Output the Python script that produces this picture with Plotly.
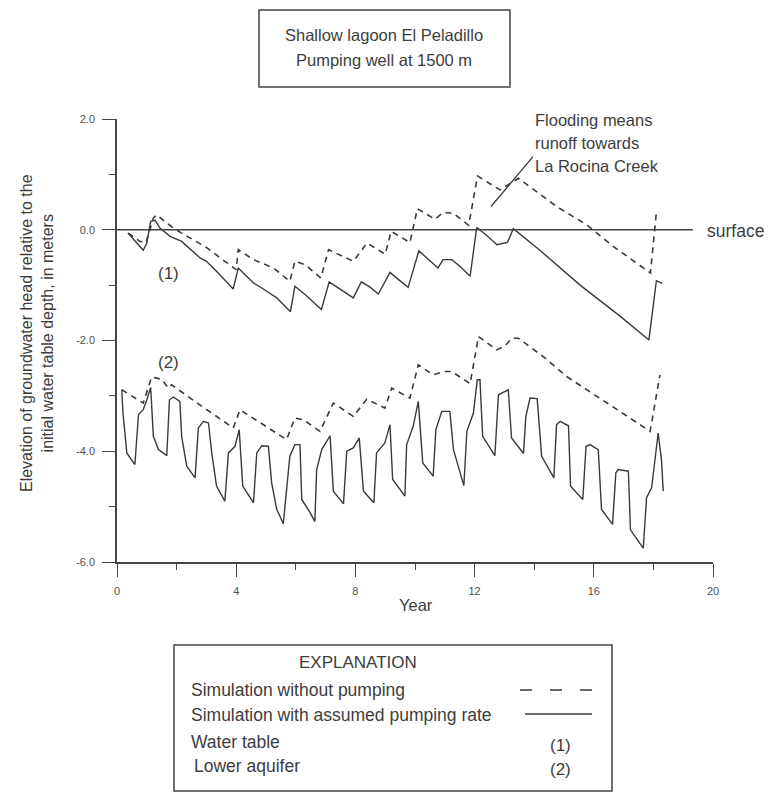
import plotly.graph_objects as go

# ---------------- data ----------------
# (1) Water table, simulation with assumed pumping rate (solid)
wt_pump_x = [0.37, 0.88, 1.0, 1.13, 1.28, 1.44, 1.78, 2.17, 2.79, 3.0, 3.34, 3.9,
             4.07, 4.58, 4.91, 5.36, 5.82, 5.97, 6.31, 6.86, 7.12, 7.5, 7.93, 8.2,
             8.5, 8.77, 9.16, 9.45, 9.77, 10.13, 10.45, 10.77, 10.94, 11.24, 11.55,
             11.85, 12.07, 12.4, 12.75, 13.1, 13.3, 14.19, 15.54, 16.88, 17.85,
             18.1, 18.3]
wt_pump_y = [-0.06, -0.37, -0.24, 0.15, 0.17, 0.03, -0.12, -0.21, -0.51, -0.57, -0.75,
             -1.07, -0.69, -0.96, -1.07, -1.23, -1.48, -1.02, -1.17, -1.44, -0.94,
             -1.08, -1.23, -0.94, -1.04, -1.16, -0.77, -0.9, -1.04, -0.38, -0.53,
             -0.69, -0.54, -0.54, -0.68, -0.84, 0.04, -0.1, -0.27, -0.23, 0.02,
             -0.37, -1.0, -1.56, -1.99, -0.92, -0.97]

# (1) Water table, simulation without pumping (dashed)
wt_nopump_x = [0.37, 0.77, 0.97, 1.22, 1.33, 1.61, 1.89, 2.17, 2.56, 3.0, 3.62, 4.0,
               4.07, 4.58, 5.25, 5.8, 5.97, 6.31, 6.84, 7.1, 7.93, 8.39, 9.0, 9.2,
               9.83, 10.08, 10.67, 10.94, 11.28, 11.8, 12.1, 12.85, 13.47, 14.75,
               15.76, 16.04, 16.65, 17.9, 18.1]
wt_nopump_y = [-0.06, -0.21, -0.24, 0.21, 0.27, 0.15, 0.03, -0.06, -0.18, -0.32, -0.57,
               -0.72, -0.36, -0.54, -0.69, -0.93, -0.57, -0.63, -0.87, -0.36, -0.57,
               -0.24, -0.44, -0.03, -0.23, 0.38, 0.19, 0.31, 0.3, 0.08, 0.97, 0.72,
               0.93, 0.42, 0.09, -0.03, -0.3, -0.78, 0.31]

# (2) Lower aquifer, simulation with assumed pumping rate (solid)
la_pump_x = [0.16, 0.2, 0.33, 0.6, 0.72, 0.88, 1.0, 1.13, 1.22, 1.39, 1.67, 1.76, 1.89,
             2.11, 2.17, 2.34, 2.62, 2.73, 2.9, 3.07, 3.18, 3.34, 3.62, 3.74, 3.96,
             4.1, 4.22, 4.58, 4.69, 4.86, 5.08, 5.19, 5.36, 5.58, 5.8, 5.97, 6.14,
             6.2, 6.48, 6.64, 6.7, 6.87, 7.15, 7.26, 7.6, 7.71, 7.93, 8.13, 8.27,
             8.62, 8.71, 8.99, 9.16, 9.25, 9.66, 9.72, 9.94, 10.11, 10.26, 10.61,
             10.7, 10.9, 11.17, 11.29, 11.64, 11.74, 11.96, 12.09, 12.18, 12.27,
             12.68, 12.8, 13.13, 13.24, 13.64, 13.72, 13.86, 14.1, 14.25, 14.66,
             14.75, 14.87, 15.15, 15.22, 15.63, 15.74, 15.87, 16.15, 16.26, 16.63,
             16.74, 16.82, 17.16, 17.23, 17.66, 17.77, 17.94, 18.16, 18.27, 18.33]
la_pump_y = [-2.89, -3.31, -4.03, -4.24, -3.34, -3.25, -3.07, -2.85, -3.73, -3.97,
             -4.08, -3.07, -3.02, -3.1, -3.73, -4.27, -4.48, -3.58, -3.46, -3.49,
             -4.03, -4.63, -4.9, -4.03, -3.91, -3.61, -4.63, -4.93, -4.03, -3.9,
             -3.91, -4.57, -5.05, -5.31, -4.09, -3.88, -3.88, -4.87, -5.11, -5.27,
             -4.33, -3.97, -3.72, -4.72, -4.95, -4.0, -3.94, -3.76, -4.72, -4.93,
             -4.03, -3.85, -3.52, -4.51, -4.81, -3.88, -3.55, -3.1, -4.21, -4.45,
             -3.61, -3.28, -3.28, -3.97, -4.62, -3.64, -3.31, -2.71, -2.71, -3.73,
             -4.08, -2.98, -2.89, -3.76, -4.04, -3.37, -3.04, -3.05, -4.09, -4.48,
             -3.52, -3.46, -3.54, -4.63, -4.87, -3.91, -3.88, -3.97, -5.05, -5.32,
             -4.39, -4.33, -4.36, -5.42, -5.75, -4.84, -4.66, -3.67, -4.15, -4.72]

# (2) Lower aquifer, simulation without pumping (dashed)
la_nopump_x = [0.16, 0.88, 1.16, 1.5, 1.72, 1.83, 2.8, 3.9, 4.13, 5.69, 5.97, 6.25,
               6.81, 7.26, 7.93, 8.38, 8.99, 9.22, 9.83, 10.11, 10.61, 10.95, 11.23,
               11.85, 12.13, 12.74, 13.02, 13.25, 13.47, 14.3, 15.09, 17.89, 18.22]
la_nopump_y = [-2.89, -3.13, -2.66, -2.7, -2.86, -2.8, -3.17, -3.58, -3.25, -3.79,
               -3.4, -3.43, -3.64, -3.13, -3.37, -3.06, -3.22, -2.86, -3.04, -2.44,
               -2.62, -2.56, -2.56, -2.78, -1.93, -2.17, -2.1, -1.96, -1.96, -2.29,
               -2.65, -3.64, -2.62]

# Land surface reference line
surface_x = [0.0, 19.33]
surface_y = [0.0, 0.0]

# Flooding pointer (data coordinates)
flood_x = [12.55, 13.96]
flood_y = [0.42, 1.32]

# Axis ticks
x_tick_vals = [0, 4, 8, 12, 16, 20]
x_tick_text = ["0", "4", "8", "12", "16", "20"]
x_minor_vals = [2, 6, 10, 14, 18]
y_tick_vals = [2, 0, -2, -4, -6]
y_tick_text = ["2.0", "0.0", "-2.0", "-4.0", "-6.0"]
y_minor_vals = [1, -1, -3, -5]

# ---------------- figure ----------------
W, H = 772, 796
L, R, T, B = 117, 713, 119, 562  # plot area in pixels


def px(p):
    return (p - L) / (R - L)


def py(p):
    return (B - p) / (B - T)


LINE = "#3a3a3a"
TXT = "#3d3d3d"
FONT = "Liberation Sans, Arial, sans-serif"

fig = go.Figure()
fig.add_trace(go.Scatter(x=surface_x, y=surface_y, mode="lines",
                         line=dict(color="#444444", width=1.6), hoverinfo="skip"))
fig.add_trace(go.Scatter(x=wt_nopump_x, y=wt_nopump_y, mode="lines",
                         line=dict(color=LINE, width=1.6, dash="6px,5px")))
fig.add_trace(go.Scatter(x=wt_pump_x, y=wt_pump_y, mode="lines",
                         line=dict(color=LINE, width=1.4)))
fig.add_trace(go.Scatter(x=la_nopump_x, y=la_nopump_y, mode="lines",
                         line=dict(color=LINE, width=1.6, dash="6px,5px")))
fig.add_trace(go.Scatter(x=la_pump_x, y=la_pump_y, mode="lines",
                         line=dict(color=LINE, width=1.4)))

shapes = []
# pointer line
shapes.append(dict(type="line", xref="x", yref="y", x0=flood_x[0], y0=flood_y[0],
                   x1=flood_x[1], y1=flood_y[1], line=dict(color=LINE, width=1.3)))
# title box
shapes.append(dict(type="rect", xref="paper", yref="paper",
                   x0=px(259), x1=px(510), y0=py(87), y1=py(10),
                   line=dict(color="#444444", width=1.5)))
# explanation box
shapes.append(dict(type="rect", xref="paper", yref="paper",
                   x0=px(174), x1=px(612), y0=py(791), y1=py(645),
                   line=dict(color="#444444", width=1.5)))
# legend samples
shapes.append(dict(type="line", xref="paper", yref="paper",
                   x0=px(520), x1=px(593), y0=py(690), y1=py(690),
                   line=dict(color=LINE, width=1.4, dash="12px,18px")))
shapes.append(dict(type="line", xref="paper", yref="paper",
                   x0=px(525), x1=px(592), y0=py(714), y1=py(714),
                   line=dict(color=LINE, width=1.3)))

annotations = []


def note(text, x, y, size=17, xanchor="center", yanchor="middle", angle=0):
    annotations.append(dict(text=text, xref="paper", yref="paper", x=x, y=y,
                            xanchor=xanchor, yanchor=yanchor, showarrow=False,
                            textangle=angle,
                            font=dict(family=FONT, size=size, color=TXT)))


note("Shallow lagoon El Peladillo", px(384), py(35), 16.5)
note("Pumping well at 1500 m", px(384), py(60), 16.5)
note("Flooding means", px(533), py(120), 16.5, xanchor="left")
note("runoff towards", px(533), py(143), 16.5, xanchor="left")
note("La Rocina Creek", px(533), py(166), 16.5, xanchor="left")
note("surface", px(705), py(231), 17.5, xanchor="left")
note("(1)", px(168), py(273), 17)
note("(2)", px(168), py(362), 17)
note("Year", px(416), py(605), 16.5)
note("Elevation of groundwater head relative to the<br>initial water table depth, in meters",
     px(37), py(333), 16, angle=-90)
note("EXPLANATION", px(358), py(662), 17)
note("Simulation without pumping", px(189), py(690), 17.5, xanchor="left")
note("Simulation with assumed pumping rate", px(189), py(715), 17.5, xanchor="left")
note("Water table", px(189), py(742), 17.5, xanchor="left")
note("Lower aquifer", px(192), py(766), 17.5, xanchor="left")
note("(1)", px(560), py(745), 17)
note("(2)", px(560), py(769), 17)

axis_common = dict(showgrid=False, zeroline=False, showline=True,
                   linecolor="#444444", linewidth=1.5, ticks="outside",
                   tickcolor="#444444", tickwidth=1.3, ticklen=13,
                   tickfont=dict(family=FONT, size=11, color="#505050"))

fig.update_layout(
    width=W, height=H,
    margin=dict(l=L, r=W - R, t=T, b=H - B, pad=0),
    paper_bgcolor="white", plot_bgcolor="white",
    showlegend=False,
    shapes=shapes, annotations=annotations,
    xaxis=dict(range=[0, 20], tickvals=x_tick_vals, ticktext=x_tick_text,
               ticklabelstandoff=5,
               minor=dict(tickvals=x_minor_vals, ticks="outside", ticklen=6,
                          tickcolor="#444444", tickwidth=1.3),
               **axis_common),
    yaxis=dict(range=[-6, 2], tickvals=y_tick_vals, ticktext=y_tick_text,
               ticklabelstandoff=5,
               minor=dict(tickvals=y_minor_vals, ticks="outside", ticklen=6,
                          tickcolor="#444444", tickwidth=1.3),
               **axis_common),
)

fig.write_html("out.html")
